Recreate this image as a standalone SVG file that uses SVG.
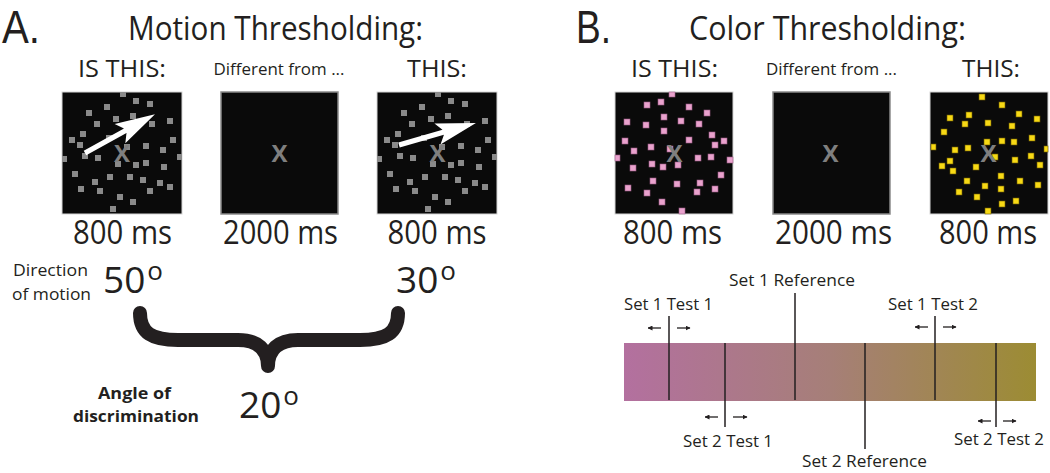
<svg xmlns="http://www.w3.org/2000/svg" xmlns:xlink="http://www.w3.org/1999/xlink" width="1050" height="473" viewBox="0 0 1050 473">
<style>
text{font-family:"Open Sans","Noto Sans","Liberation Sans",sans-serif;fill:#231f20}
.big{font-family:"Liberation Sans","Open Sans",sans-serif;font-size:46px}
.title{font-size:33px}
.hdr{font-size:24px}
.diff{font-size:16.5px}
.ms{font-size:32px}
.deg{font-size:37px}
.small{font-size:16.5px}
.bold{font-size:16.5px;font-weight:bold}
.lbl{font-size:16.5px}
.x{font-size:24px;font-weight:bold;fill:#7f7f7f;text-anchor:middle}
.mid{text-anchor:middle}
.box{fill:#0a0a0a;stroke:#d6d6d6;stroke-width:1}
.box2{fill:#0a0a0a;stroke:#8a8a8a;stroke-width:1.5}
.g rect{fill:#8a8a8a}
.p rect{fill:#e9a2cd;stroke:#9a5a84;stroke-width:0.6}
.y rect{fill:#f7d915;stroke:#6e5c00;stroke-width:0.6}
.tick{stroke:#231f20;stroke-width:1.5}
.sa{stroke:#231f20;stroke-width:1.3;marker-end:url(#ah)}
</style>
<defs>
<linearGradient id="bar" x1="0" y1="0" x2="1" y2="0">
<stop offset="0" stop-color="#b3709f"/>
<stop offset="0.5" stop-color="#a67f78"/>
<stop offset="1" stop-color="#9c8c33"/>
</linearGradient>
<marker id="ah" viewBox="0 0 10 10" refX="9" refY="5" markerWidth="5" markerHeight="5" orient="auto" markerUnits="userSpaceOnUse">
<path d="M0,0 L10,5 L0,10 z" fill="#231f20"/>
</marker>
<polygon id="arr" points="0,-2.6 46,-2.6 40,-11 80,0 40,11 46,2.6 0,2.6" fill="#ffffff"/>
<g id="mdots" class="g">
<rect x="120" y="92" width="6" height="5"/><rect x="133" y="98" width="6" height="6"/><rect x="147" y="101" width="6" height="6"/>
<rect x="104" y="104" width="6" height="6"/><rect x="86" y="110" width="6" height="6"/><rect x="130" y="113" width="6" height="6"/>
<rect x="113" y="116" width="6" height="6"/><rect x="94" y="121" width="6" height="6"/><rect x="149" y="121" width="6" height="6"/>
<rect x="167" y="118" width="6" height="6"/><rect x="80" y="131" width="6" height="6"/><rect x="69" y="137" width="6" height="6"/>
<rect x="77" y="142" width="6" height="6"/><rect x="106" y="135" width="6" height="6"/><rect x="143" y="143" width="6" height="6"/>
<rect x="160" y="147" width="6" height="6"/><rect x="170" y="137" width="6" height="6"/><rect x="124" y="144" width="6" height="6"/>
<rect x="82" y="153" width="6" height="6"/><rect x="95" y="155" width="6" height="6"/><rect x="62" y="156" width="5" height="6"/>
<rect x="115" y="161" width="6" height="6"/><rect x="133" y="162" width="6" height="6"/><rect x="143" y="160" width="6" height="6"/>
<rect x="161" y="164" width="6" height="6"/><rect x="177" y="154" width="5" height="6"/><rect x="72" y="171" width="6" height="6"/>
<rect x="92" y="179" width="6" height="6"/><rect x="107" y="174" width="6" height="6"/><rect x="127" y="174" width="6" height="6"/>
<rect x="140" y="177" width="6" height="6"/><rect x="157" y="180" width="6" height="6"/><rect x="78" y="186" width="6" height="6"/>
<rect x="97" y="188" width="6" height="6"/><rect x="117" y="194" width="6" height="6"/><rect x="147" y="188" width="6" height="6"/>
<rect x="167" y="184" width="6" height="6"/><rect x="130" y="199" width="6" height="6"/><rect x="110" y="206" width="6" height="6"/>
</g>
</defs>
<rect width="1050" height="473" fill="#ffffff"/>

<g id="panelA-titles">
<text class="big" x="2" y="43" textLength="38" lengthAdjust="spacingAndGlyphs">A.</text>
<text class="title mid" x="275.5" y="40" textLength="295" lengthAdjust="spacingAndGlyphs">Motion Thresholding:</text>
</g>

<g id="A-stim1">
<text class="hdr mid" x="122" y="77" textLength="88" lengthAdjust="spacingAndGlyphs">IS THIS:</text>
<rect class="box" x="62" y="92" width="120" height="122"/>
<use xlink:href="#mdots"/>
<text class="x" x="122" y="162">X</text>
<use xlink:href="#arr" transform="translate(85,153) rotate(-29)"/>
<text class="ms mid" x="122.5" y="244" textLength="99" lengthAdjust="spacingAndGlyphs">800 ms</text>
</g>

<g id="A-blank">
<text class="diff mid" x="279" y="75" textLength="131" lengthAdjust="spacingAndGlyphs">Different from ...</text>
<rect class="box2" x="221" y="92" width="117" height="122"/>
<text class="x" x="279.5" y="162">X</text>
<text class="ms mid" x="280.5" y="244" textLength="115" lengthAdjust="spacingAndGlyphs">2000 ms</text>
</g>

<g id="A-stim2">
<text class="hdr mid" x="437" y="77" textLength="60" lengthAdjust="spacingAndGlyphs">THIS:</text>
<rect class="box" x="377" y="92" width="120" height="122"/>
<use xlink:href="#mdots" transform="translate(315,0)"/>
<text class="x" x="437.5" y="162">X</text>
<use xlink:href="#arr" transform="translate(399,145) rotate(-16)"/>
<text class="ms mid" x="437" y="244" textLength="99" lengthAdjust="spacingAndGlyphs">800 ms</text>
</g>

<g id="A-direction">
<text class="small mid" x="50.5" y="276" textLength="75" lengthAdjust="spacingAndGlyphs">Direction</text>
<text class="small mid" x="51.5" y="300" textLength="79" lengthAdjust="spacingAndGlyphs">of motion</text>
</g>
<g id="A-50">
<text class="deg" x="103" y="293">50<tspan font-size="26" dy="-13" dx="2">o</tspan></text>
</g>
<g id="A-30">
<text class="deg" x="396" y="293">30<tspan font-size="26" dy="-13" dx="2">o</tspan></text>
</g>
<g id="A-angle">
<text class="bold mid" x="134.5" y="399" textLength="73" lengthAdjust="spacingAndGlyphs">Angle of</text>
<text class="bold mid" x="136" y="422" textLength="126" lengthAdjust="spacingAndGlyphs">discrimination</text>
</g>
<g id="A-20">
<text class="deg" x="239" y="418">20<tspan font-size="26" dy="-13" dx="2">o</tspan></text>
</g>

<g id="panelB-titles">
<text class="big" x="576" y="43" textLength="35" lengthAdjust="spacingAndGlyphs">B.</text>
<text class="title mid" x="827.5" y="40" textLength="277" lengthAdjust="spacingAndGlyphs">Color Thresholding:</text>
</g>

<g id="B-stim1">
<text class="hdr mid" x="674.5" y="77" textLength="87" lengthAdjust="spacingAndGlyphs">IS THIS:</text>
<rect class="box" x="615" y="92" width="118" height="122"/>
<g class="p">
<rect x="669" y="92" width="6" height="5"/><rect x="644" y="102" width="6" height="6"/><rect x="658" y="99" width="6" height="6"/>
<rect x="686" y="104" width="6" height="6"/><rect x="704" y="110" width="6" height="6"/><rect x="661" y="114" width="6" height="6"/>
<rect x="678" y="118" width="6" height="6"/><rect x="624" y="119" width="6" height="6"/><rect x="643" y="122" width="6" height="6"/>
<rect x="696" y="121" width="6" height="6"/><rect x="661" y="128" width="6" height="6"/><rect x="709" y="132" width="6" height="6"/>
<rect x="721" y="138" width="6" height="6"/><rect x="622" y="138" width="6" height="6"/><rect x="686" y="137" width="6" height="6"/>
<rect x="712" y="142" width="6" height="6"/><rect x="631" y="148" width="6" height="6"/><rect x="648" y="144" width="6" height="6"/>
<rect x="667" y="146" width="6" height="6"/><rect x="615" y="155" width="5" height="6"/><rect x="695" y="155" width="6" height="6"/>
<rect x="708" y="154" width="6" height="6"/><rect x="727" y="157" width="6" height="6"/><rect x="649" y="161" width="6" height="6"/>
<rect x="630" y="165" width="6" height="6"/><rect x="660" y="164" width="6" height="6"/><rect x="675" y="162" width="6" height="6"/>
<rect x="718" y="172" width="6" height="6"/><rect x="650" y="178" width="6" height="6"/><rect x="674" y="181" width="6" height="6"/>
<rect x="697" y="180" width="6" height="6"/><rect x="625" y="185" width="6" height="6"/><rect x="644" y="190" width="6" height="6"/>
<rect x="712" y="186" width="6" height="6"/><rect x="694" y="189" width="6" height="6"/><rect x="659" y="199" width="6" height="6"/>
<rect x="679" y="208" width="6" height="6"/>
</g>
<text class="x" x="674.5" y="162">X</text>
<text class="ms mid" x="672.5" y="244" textLength="99" lengthAdjust="spacingAndGlyphs">800 ms</text>
</g>

<g id="B-blank">
<text class="diff mid" x="831.5" y="75" textLength="131" lengthAdjust="spacingAndGlyphs">Different from ...</text>
<rect class="box2" x="773" y="92" width="117" height="122"/>
<text class="x" x="830.5" y="162">X</text>
<text class="ms mid" x="833.5" y="244" textLength="117" lengthAdjust="spacingAndGlyphs">2000 ms</text>
</g>

<g id="B-stim2">
<text class="hdr mid" x="991" y="77" textLength="58" lengthAdjust="spacingAndGlyphs">THIS:</text>
<rect class="box" x="930" y="92" width="118" height="122"/>
<g class="y">
<rect x="979" y="94" width="6" height="6"/><rect x="999" y="102" width="6" height="6"/><rect x="966" y="112" width="6" height="6"/>
<rect x="947" y="115" width="6" height="6"/><rect x="1016" y="111" width="6" height="6"/><rect x="1034" y="116" width="6" height="6"/>
<rect x="962" y="121" width="6" height="6"/><rect x="985" y="120" width="6" height="6"/><rect x="1009" y="123" width="6" height="6"/>
<rect x="941" y="129" width="6" height="6"/><rect x="1029" y="135" width="6" height="6"/><rect x="999" y="138" width="6" height="6"/>
<rect x="1011" y="139" width="6" height="6"/><rect x="984" y="139" width="6" height="6"/><rect x="931" y="144" width="5" height="6"/>
<rect x="952" y="147" width="6" height="6"/><rect x="965" y="145" width="6" height="6"/><rect x="1044" y="146" width="4" height="6"/>
<rect x="992" y="154" width="6" height="6"/><rect x="1028" y="153" width="6" height="6"/><rect x="947" y="158" width="6" height="6"/>
<rect x="1012" y="157" width="6" height="6"/><rect x="939" y="163" width="6" height="6"/><rect x="950" y="168" width="6" height="6"/>
<rect x="973" y="164" width="6" height="6"/><rect x="1037" y="162" width="6" height="6"/><rect x="998" y="173" width="6" height="6"/>
<rect x="964" y="178" width="6" height="6"/><rect x="982" y="183" width="6" height="6"/><rect x="1017" y="178" width="6" height="6"/>
<rect x="1035" y="182" width="6" height="6"/><rect x="998" y="186" width="6" height="6"/><rect x="956" y="189" width="6" height="6"/>
<rect x="974" y="194" width="6" height="6"/><rect x="999" y="201" width="6" height="6"/><rect x="1013" y="198" width="6" height="6"/>
<rect x="985" y="208" width="6" height="6"/>
</g>
<text class="x" x="988.5" y="162">X</text>
<text class="ms mid" x="988" y="244" textLength="98" lengthAdjust="spacingAndGlyphs">800 ms</text>
</g>

<g id="B-colorbar">
<rect x="624" y="343" width="412" height="58" fill="url(#bar)"/>
<line class="tick" x1="669" y1="316" x2="669" y2="400"/>
<line class="tick" x1="725" y1="343" x2="725" y2="427"/>
<line class="tick" x1="795" y1="293" x2="795" y2="400"/>
<line class="tick" x1="865" y1="343" x2="865" y2="449"/>
<line class="tick" x1="935" y1="316" x2="935" y2="400"/>
<line class="tick" x1="996" y1="343" x2="996" y2="427"/>
</g>
<g id="B-set1test1"><text class="lbl mid" x="668.5" y="310" textLength="89" lengthAdjust="spacingAndGlyphs">Set 1 Test 1</text></g>
<g id="B-set1ref"><text class="lbl mid" x="792" y="286" textLength="126" lengthAdjust="spacingAndGlyphs">Set 1 Reference</text></g>
<g id="B-set1test2"><text class="lbl mid" x="933" y="310" textLength="90" lengthAdjust="spacingAndGlyphs">Set 1 Test 2</text></g>
<g id="B-set2test1"><text class="lbl mid" x="728" y="447" textLength="90" lengthAdjust="spacingAndGlyphs">Set 2 Test 1</text></g>
<g id="B-set2ref"><text class="lbl mid" x="864.5" y="467" textLength="125" lengthAdjust="spacingAndGlyphs">Set 2 Reference</text></g>
<g id="B-set2test2"><text class="lbl mid" x="999" y="445" textLength="90" lengthAdjust="spacingAndGlyphs">Set 2 Test 2</text></g>

<g id="connectors">
<path d="M140,313 C140,333 152,340 178,340 L238,340 C258,340 268,350 268,366 M398,313 C398,333 386,340 360,340 L298,340 C278,340 268,350 268,366" fill="none" stroke="#231f20" stroke-width="14" stroke-linecap="round" stroke-linejoin="round"/>
<line class="sa" x1="661" y1="328" x2="648" y2="328"/>
<line class="sa" x1="677" y1="328" x2="690" y2="328"/>
<line class="sa" x1="928" y1="327" x2="915" y2="327"/>
<line class="sa" x1="943" y1="327" x2="956" y2="327"/>
<line class="sa" x1="718" y1="417" x2="705" y2="417"/>
<line class="sa" x1="733" y1="417" x2="747" y2="417"/>
<line class="sa" x1="991" y1="421" x2="978" y2="421"/>
<line class="sa" x1="1003" y1="421" x2="1016" y2="421"/>
</g>
</svg>
